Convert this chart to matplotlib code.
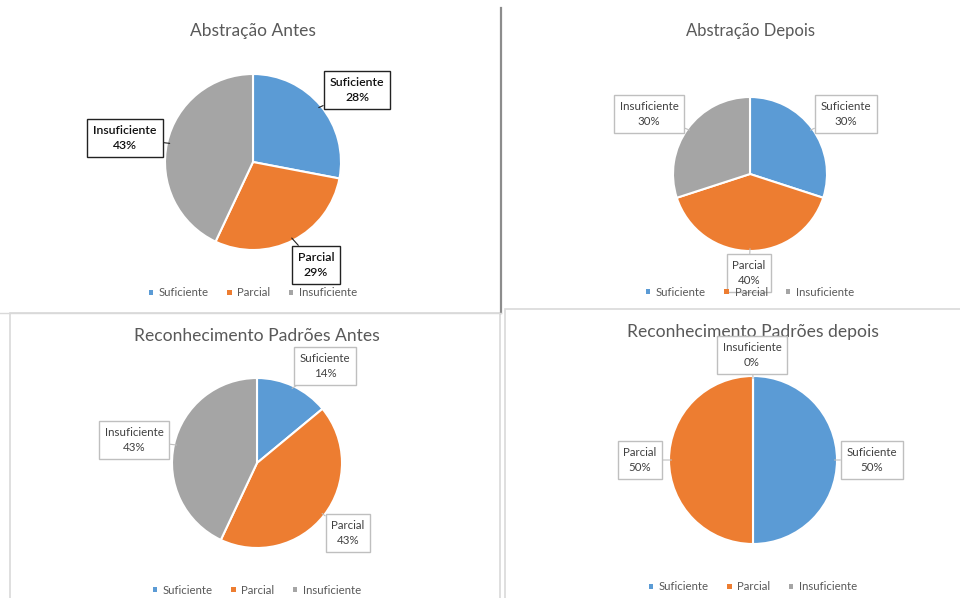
import numpy as np
import matplotlib.pyplot as plt
from matplotlib.patches import Patch, Rectangle
from matplotlib.lines import Line2D

plt.rcParams['font.family'] = ['Lato', 'DejaVu Sans']

categories = ['Suficiente', 'Parcial', 'Insuficiente']
colors = ['#5B9BD5', '#ED7D31', '#A5A5A5']

titles = ['Abstração Antes', 'Abstração Depois',
          'Reconhecimento Padrões Antes', 'Reconhecimento Padrões depois']
abstracao_antes = [28, 29, 43]
abstracao_depois = [30, 40, 30]
padroes_antes = [14, 43, 43]
padroes_depois = [50, 50, 0]

W, H = 960, 598
fig = plt.figure(figsize=(W / 100, H / 100), dpi=100)
ax = fig.add_axes([0, 0, 1, 1])


def py(y):
    # pixel rows run downward, data y upward
    return H - y


# layout of each panel: pie centre, radius, title y, legend y, label box centres
panels = [
    dict(values=abstracao_antes, cx=253, cy=162, r=88, ty=31, ly=293, tsize=12.5,
         boxes=[(357, 90), (316, 265), (125, 138)], dark=True),
    dict(values=abstracao_depois, cx=750, cy=174, r=77, ty=31, ly=292, tsize=12,
         boxes=[(846, 114), (749, 273), (649, 114)], dark=False),
    dict(values=padroes_antes, cx=257, cy=463, r=85, ty=336, ly=590, tsize=12.6,
         boxes=[(325, 366), (348, 533), (134, 440)], dark=False),
    dict(values=padroes_depois, cx=753, cy=460, r=84, ty=332, ly=587, tsize=12.6,
         boxes=[(872, 460), (640, 460), (752, 355)], dark=False),
]

for title, p in zip(titles, panels):
    wedges, _ = ax.pie(p['values'], colors=colors, startangle=90, counterclock=False,
                       center=(p['cx'], py(p['cy'])), radius=p['r'], frame=True,
                       wedgeprops=dict(edgecolor='white', linewidth=1.5))
    ax.text(p['cx'], py(p['ty']), title, ha='center', va='center',
            fontsize=p['tsize'], color='#595959')

    if p['dark']:
        tcol, ecol, fs, fw = '#111111', '#222222', 8.8, 'semibold'
    else:
        tcol, ecol, fs, fw = '#404040', '#BFBFBF', 8.3, 'normal'
    for w, cat, val, (bx, by) in zip(wedges, categories, p['values'], p['boxes']):
        mid = np.deg2rad((w.theta1 + w.theta2) / 2)
        tip = (p['cx'] + p['r'] * 0.97 * np.cos(mid), py(p['cy']) + p['r'] * 0.97 * np.sin(mid))
        ax.annotate(f'{cat}\n{val}%', xy=tip, xytext=(bx, py(by)),
                    ha='center', va='center', fontsize=fs, color=tcol, fontweight=fw,
                    linespacing=1.45,
                    bbox=dict(boxstyle='square,pad=0.5', fc='white', ec=ecol, lw=1),
                    arrowprops=dict(arrowstyle='-', color=ecol, lw=0.8,
                                    shrinkA=0, shrinkB=0))

    handles = [Patch(facecolor=c, edgecolor='none') for c in colors]
    fig.legend(handles, categories, loc='center', ncol=3, frameon=False,
               bbox_to_anchor=(p['cx'] / W, 1 - p['ly'] / H),
               fontsize=8.2, labelcolor='#595959', handlelength=0.4, handleheight=0.4,
               handletextpad=0.5, columnspacing=1.6)

# panel frames
ax.add_line(Line2D([501, 501], [py(8), py(313)], color='#8C8C8C', lw=1.6))
ax.add_line(Line2D([0, 501], [py(313), py(313)], color='#D9D9D9', lw=1))
ax.add_patch(Rectangle((10, py(600)), 490, 287, fill=False, ec='#D9D9D9', lw=1.2))
ax.add_patch(Rectangle((505, py(600)), 460, 291, fill=False, ec='#D9D9D9', lw=1.2))

ax.set_xlim(0, W)
ax.set_ylim(0, H)
ax.set_aspect('auto')
ax.axis('off')

fig.savefig('out.png', dpi=100)
